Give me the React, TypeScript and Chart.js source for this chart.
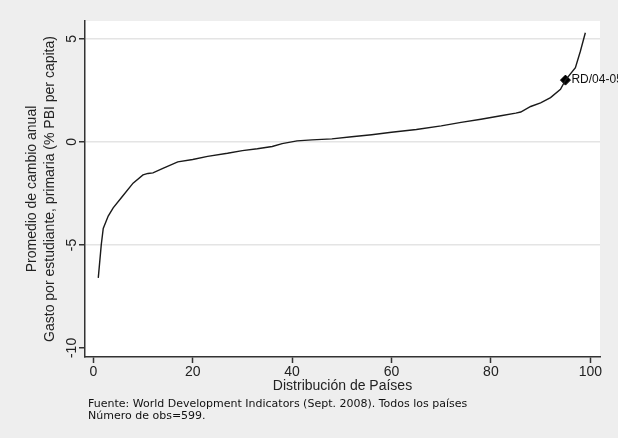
import React, { useEffect, useRef } from "react";
import { Chart, registerables } from "chart.js";

Chart.register(...registerables);

// Percentile position of each country (x) and annual change (y)
const percentiles = [1, 1.6, 2, 3, 4, 6, 8, 10, 11, 12, 14, 17, 20, 23, 27, 30, 33, 36, 38, 41, 44, 48, 52, 56, 60, 65, 70, 74, 78, 82, 85, 86, 88, 90, 92, 94, 95, 97, 98, 99];
const changes = [-6.6, -5.0, -4.2, -3.6, -3.2, -2.6, -2.0, -1.6, -1.53, -1.5, -1.28, -0.97, -0.85, -0.7, -0.55, -0.42, -0.33, -0.22, -0.08, 0.05, 0.1, 0.15, 0.25, 0.35, 0.47, 0.6, 0.78, 0.95, 1.1, 1.27, 1.4, 1.45, 1.72, 1.9, 2.15, 2.55, 3.0, 3.6, 4.4, 5.3];

// Highlighted country
const highlightX = [95];
const highlightY = [3.0];
const highlightLabels = ["RD/04-05"];

const xTicks = [0, 20, 40, 60, 80, 100];
const yTicks = [-10, -5, 0, 5];

const yTitle = ["Promedio de cambio anual", "Gasto por estudiante, primaria (% PBI per capita)"];
const xTitle = "Distribución de Países";
const notes = ["Fuente: World Development Indicators (Sept. 2008). Todos los países", "Número de obs=599."];

const bgPlugin = {
  id: "bg",
  beforeDraw(chart: any) {
    const { ctx, chartArea } = chart;
    ctx.save();
    ctx.fillStyle = "#eeeeee";
    ctx.fillRect(0, 0, chart.width, chart.height);
    ctx.fillStyle = "#ffffff";
    ctx.fillRect(chartArea.left, chartArea.top, chartArea.right - chartArea.left, chartArea.bottom - chartArea.top);
    ctx.restore();
  },
};

const labelPlugin = {
  id: "pointLabels",
  afterDatasetsDraw(chart: any) {
    const { ctx } = chart;
    const meta = chart.getDatasetMeta(1);
    ctx.save();
    ctx.font = "12px 'Liberation Sans'";
    ctx.fillStyle = "#111";
    ctx.textBaseline = "middle";
    ctx.textAlign = "left";
    meta.data.forEach((el: any, i: number) => {
      ctx.fillText(highlightLabels[i], el.x + 6, el.y);
    });
    ctx.restore();
  },
};

const notePlugin = {
  id: "notes",
  afterDraw(chart: any) {
    const { ctx } = chart;
    ctx.save();
    ctx.font = "11px 'DejaVu Sans'";
    ctx.fillStyle = "#111";
    ctx.textBaseline = "middle";
    ctx.textAlign = "left";
    notes.forEach((t, i) => ctx.fillText(t, 88, 404 + i * 12.5));
    ctx.restore();
  },
};

export default function App() {
  const ref = useRef<HTMLCanvasElement>(null);
  useEffect(() => {
    if (!ref.current) return;
    const chart = new Chart(ref.current, {
      type: "scatter",
      data: {
        datasets: [
          {
            data: percentiles.map((x, i) => ({ x, y: changes[i] })),
            showLine: true,
            borderColor: "#1a1a1a",
            borderWidth: 1.4,
            pointRadius: 0,
            tension: 0,
          },
          {
            data: highlightX.map((x, i) => ({ x, y: highlightY[i] })),
            pointStyle: "rectRot",
            pointRadius: 5,
            backgroundColor: "#000",
            borderColor: "#000",
            borderWidth: 1,
          },
        ],
      },
      options: {
        animation: false,
        responsive: false,
        events: [],
        layout: { padding: { top: 21, right: 18, left: 0, bottom: 43 } },
        plugins: { legend: { display: false }, tooltip: { enabled: false } },
        scales: {
          x: {
            type: "linear",
            min: -1.67,
            max: 101.95,
            afterBuildTicks: (s: any) => {
              s.ticks = xTicks.map((v) => ({ value: v }));
            },
            afterFit: (s: any) => {
              s.height = 38;
            },
            border: { display: true, color: "#333", width: 1.5 },
            grid: { drawOnChartArea: false, drawTicks: true, tickLength: 6, tickColor: "#333", tickWidth: 1.5 },
            ticks: { font: { family: "'Liberation Sans'", size: 14 }, color: "#222", padding: 1, maxRotation: 0 },
            title: {
              display: true,
              text: xTitle,
              font: { family: "'Liberation Sans'", size: 14, lineHeight: 1.2 },
              color: "#222",
              padding: { top: 0, bottom: 0 },
            },
          },
          y: {
            type: "linear",
            min: -10.44,
            max: 5.87,
            afterBuildTicks: (s: any) => {
              s.ticks = yTicks.map((v) => ({ value: v }));
            },
            afterFit: (s: any) => {
              s.width = 85;
            },
            border: { display: true, color: "#333", width: 1.5 },
            grid: {
              color: (c: any) => (c.tick && c.tick.value === -10 ? "rgba(0,0,0,0)" : "#e4e4e4"),
              lineWidth: 1.5,
              drawTicks: true,
              tickLength: 6,
              tickColor: "#333",
              tickWidth: 1.5,
            },
            ticks: {
              font: { family: "'Liberation Sans'", size: 14 },
              color: "#222",
              padding: -3,
              minRotation: 90,
              maxRotation: 90,
              crossAlign: "center",
            },
            title: {
              display: true,
              text: yTitle,
              font: { family: "'Liberation Sans'", size: 14, lineHeight: 1.3 },
              color: "#222",
              padding: { top: 23, bottom: 0 },
            },
          },
        },
      },
      plugins: [bgPlugin, labelPlugin, notePlugin],
    } as any);
    return () => chart.destroy();
  }, []);
  return (
    <div style={{ position: "fixed", left: 0, top: 0, width: 618, height: 438, background: "#eeeeee" }}>
      <canvas ref={ref} width={618} height={438} />
    </div>
  );
}
